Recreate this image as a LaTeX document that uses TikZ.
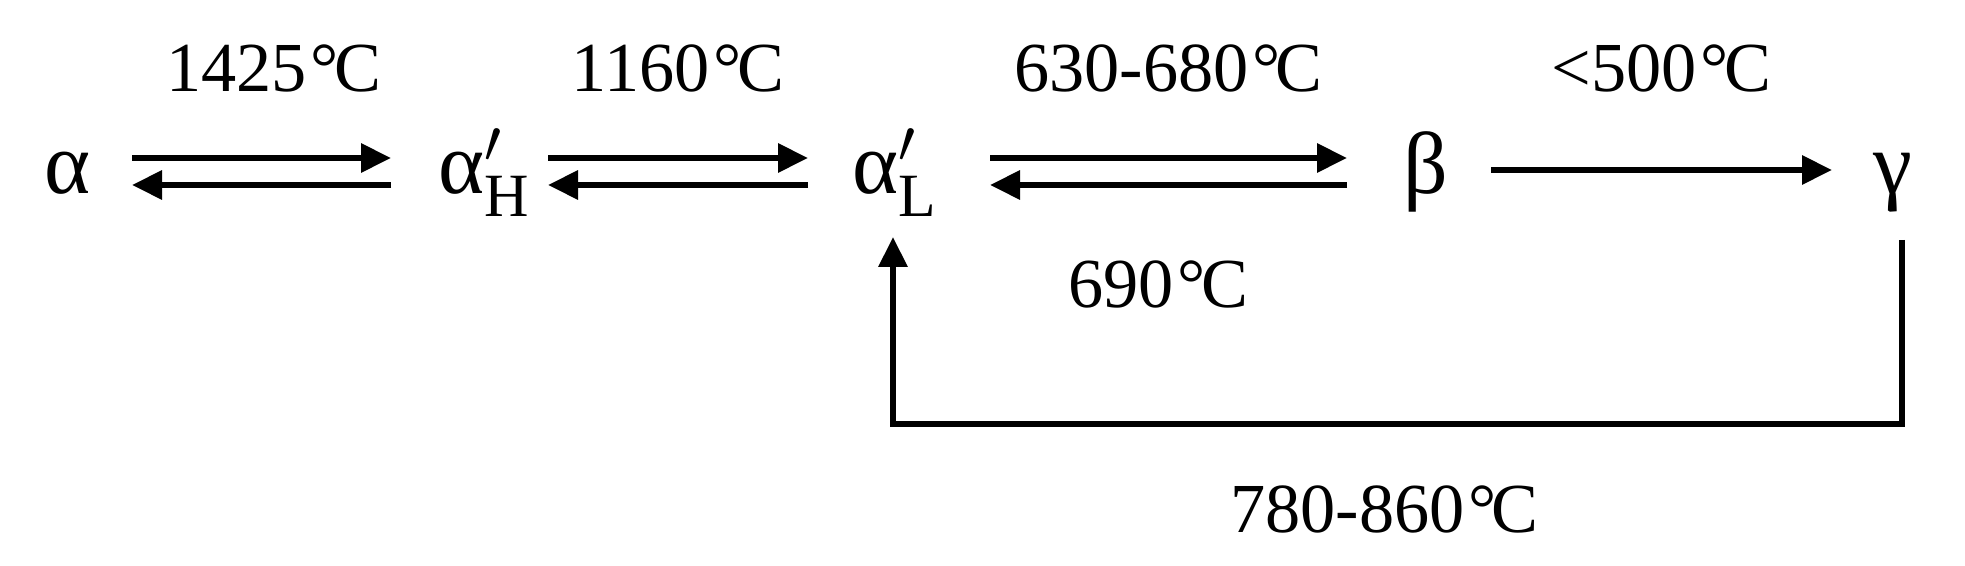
\documentclass[tikz,border=0pt]{standalone}
\usepackage{fontspec}
\setmainfont{Liberation Serif}
\usepackage{amsmath}
\usetikzlibrary{arrows.meta}
\newcommand{\degC}{\kern0.05em°\kern-0.06em C}
\newcommand{\phasefont}{\fontsize{25}{30}\selectfont}
\newcommand{\tempfont}{\fontsize{20}{24}\selectfont}
\tikzset{
	phase/.style={inner sep=0pt, anchor=base west, font=\phasefont},
	temp/.style={inner sep=0pt, font=\tempfont},
	conv/.style={line width=1.8pt, -{Triangle[length=3mm,width=2.8mm]}}
}

\begin{document}
\begin{tikzpicture}
	\useasboundingbox (0,0) rectangle (19.65,5.66);
	
	% phases
	\node[phase] (a)  at (0.44,3.72)  {α};
	\node[phase] (aH) at (4.38,3.72)  {$\text{α}'_{\text{H}}$};
	\node[phase] (aL) at (8.52,3.72)  {$\text{α}'_{\text{L}}$};
	\node[phase] (b)  at (14.03,3.72) {β};
	\node[phase] (g)  at (18.73,3.72) {γ};
	
	% alpha <-> alpha'_H
	\draw[conv] ([shift={(0.88,0.36)}]a.base west) -- node[temp, above=6.3mm, xshift=1.2mm] {1425\degC} ([shift={(-0.47,0.36)}]aH.base west);
	\draw[conv] ([shift={(-0.47,0.09)}]aH.base west) -- ([shift={(0.88,0.09)}]a.base west);
	
	% alpha'_H <-> alpha'_L
	\draw[conv] ([shift={(1.10,0.36)}]aH.base west) -- node[temp, above=6.3mm] {1160\degC} ([shift={(-0.44,0.36)}]aL.base west);
	\draw[conv] ([shift={(-0.44,0.09)}]aL.base west) -- ([shift={(1.10,0.09)}]aH.base west);
	
	% alpha'_L <-> beta
	\draw[conv] ([shift={(1.38,0.36)}]aL.base west) -- node[temp, above=6.3mm] {630-680\degC} ([shift={(-0.56,0.36)}]b.base west);
	\draw[conv] ([shift={(-0.56,0.09)}]b.base west) -- node[temp, below=7.3mm, xshift=-1mm] {690\degC} ([shift={(1.38,0.09)}]aL.base west);
	
	% beta -> gamma
	\draw[conv] ([shift={(0.88,0.24)}]b.base west) -- node[temp, above=7.5mm] {<500\degC} ([shift={(-0.41,0.24)}]g.base west);
	
	% gamma -> alpha'_L
	\draw[conv] ([shift={(0.29,-0.46)}]g.base west) -- ++(0,-1.84) -| node[pos=0.25, temp, below=5.9mm, xshift=-1.3mm] {780-860\degC} ([shift={(0.41,-0.43)}]aL.base west);
	
\end{tikzpicture}
\end{document}
